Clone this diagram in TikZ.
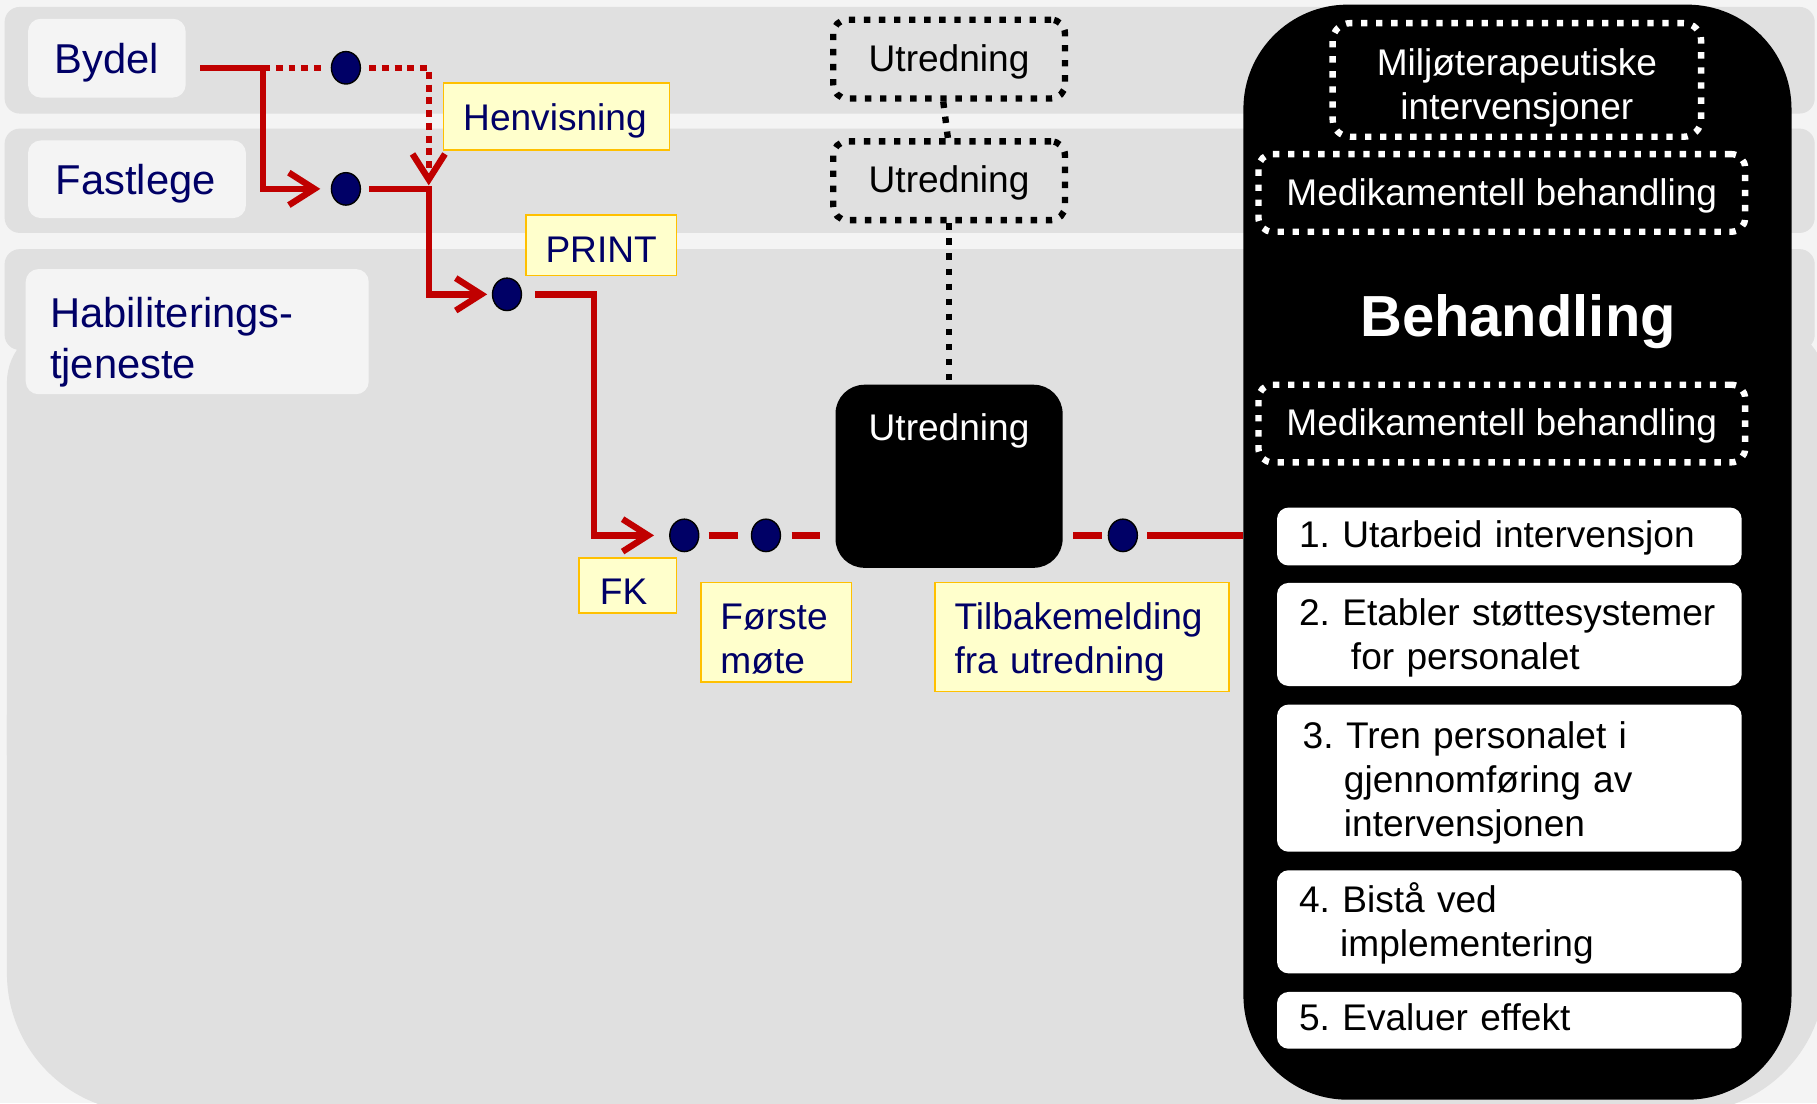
\documentclass[tikz,border=0pt]{standalone}
\usepackage{fontspec}
\setmainfont{Liberation Sans}
\usetikzlibrary{arrows.meta,shapes.geometric}
\frenchspacing
\hyphenpenalty=10000
\exhyphenpenalty=10000

\definecolor{pagebg}{HTML}{F4F4F4}
\definecolor{band}{HTML}{E0E0E0}
\definecolor{navy}{HTML}{000066}
\definecolor{flowred}{HTML}{C00000}
\definecolor{notefill}{HTML}{FFFFCC}
\definecolor{noteedge}{HTML}{FFC000}

\newcommand\fsLarge{\fontsize{36}{44}\selectfont}
\newcommand\fsMid{\fontsize{32}{38}\selectfont}
\newcommand\fsTitle{\fontsize{50}{60}\selectfont\bfseries}

\begin{document}
\begin{tikzpicture}[x=1pt,y=-1pt,
  lane/.style={fill=band},
  actor/.style={fill=pagebg, rounded corners=11pt, anchor=north west, align=left,
    text=navy, font=\fsLarge, inner ysep=0pt, text depth=0pt},
  note/.style={fill=notefill, draw=noteedge, line width=1.5pt, anchor=north west,
    align=left, text=navy, font=\fsMid, inner ysep=0pt, text depth=0pt},
  dot/.style={ellipse, fill=navy, draw=black, line width=1.2pt, minimum width=25pt,
    minimum height=28pt, inner sep=0pt},
  probe/.style={draw=black, line width=5.5pt, dash pattern=on 5.5pt off 7.5pt,
    rounded corners=12pt, minimum width=200pt, minimum height=68pt, font=\fsMid,
    inner sep=0pt, text depth=0pt},
  wprobe/.style={probe, draw=white, text=white},
  stepbox/.style={fill=white, rounded corners=10pt, text width=363pt, inner xsep=19pt,
    inner ysep=0pt, align=left, font=\fsMid, text=black, text depth=0pt},
  rline/.style={draw=flowred, line width=5.5pt},
  rdot/.style={rline, dash pattern=on 6pt off 5pt},
  barb/.style={-{Straight Barb[length=22pt,width=28pt]}},
  kdot/.style={draw=black, line width=5.5pt, dash pattern=on 5.5pt off 7.5pt}
]
\useasboundingbox (0,0) rectangle (1568,952);
\fill[pagebg] (0,0) rectangle (1568,952);

% swimlanes
\begin{scope}
  \clip (0,0) rectangle (1568,952);
  \fill[lane, rounded corners=13pt] (4,6) rectangle (1566,98);
  \fill[lane, rounded corners=13pt] (4,111) rectangle (1566,201);
  \fill[lane, rounded corners=13pt] (4,215) rectangle (1566,302);
  \fill[lane, rounded corners=50pt] (6,280) rectangle (1575,700);
  \fill[lane, rounded corners=120pt] (6,500) rectangle (1575,960);
\end{scope}

% lane titles
\node[actor, text width=90pt, inner xsep=23pt, minimum height=68pt, text height=26pt] (bydel) at (24,16) {Bydel};
\node[actor, text width=140pt, inner xsep=24pt, minimum height=67pt, text height=27pt] (fastlege) at (24,121) {Fastlege};
\node[actor, text width=254pt, inner xsep=21pt, minimum height=108pt, text height=36pt, text depth=44pt] (habil) at (22,232) {Habiliterings-\\tjeneste};

% notes
\node[note, text width=161pt, inner xsep=17pt, minimum height=58pt, text height=23pt] (henv) at (382,71) {Henvisning};
\node[note, text width=96pt, inner xsep=17pt, minimum height=52pt, text height=29pt] (print) at (453,185) {PRINT};
\node[note, text width=48pt, inner xsep=18pt, minimum height=47pt, text height=32pt] (fk) at (499,481) {FK};
\node[note, text width=96pt, inner xsep=17pt, minimum height=86pt, text height=33pt, text depth=38pt] (forste) at (604,502) {Første\\møte};
\node[note, text width=220pt, inner xsep=17pt, minimum height=94pt, text height=25pt, text depth=38pt] (tilbake) at (806,502) {Tilbakemelding\\fra utredning};

% events
\node[dot] (d1) at (298.5,58.5) {};
\node[dot] (d2) at (298.5,163) {};
\node[dot] (d3) at (437.5,254) {};
\node[dot] (d4) at (590.5,462) {};
\node[dot] (d5) at (661,462) {};
\node[dot] (d6) at (969,462) {};

% assessment
\node[probe, text height=21pt] (ut1) at (819,51) {Utredning};
\node[probe, text height=21pt] (ut2) at (819,156) {Utredning};
\node[fill=black, rounded corners=25pt, minimum width=196pt, minimum height=158pt, inner sep=0pt,
  label={[font=\fsMid, text=white, anchor=base, yshift=-48.5pt]north:Utredning}] (utb) at (819,411) {};

% treatment
\node[fill=black, rounded corners=90pt, minimum width=473pt, minimum height=945pt, inner sep=0pt] (beh) at (1309.5,476.5) {};
\node[wprobe, minimum width=318pt, minimum height=98pt, align=center, rounded corners=15pt, text height=69pt, text depth=0pt] (milj) at (1309,69) {Miljøterapeutiske\\intervensjoner};
\node[wprobe, minimum width=420pt, minimum height=67pt, text height=22pt] (med1) at (1296,166.5) {Medikamentell behandling};
\node[font=\fsTitle, text=white, text height=36pt, text depth=0pt] (behtitle) at (1310,272) {Behandling};
\node[wprobe, minimum width=420pt, minimum height=67pt, text height=20pt] (med2) at (1296,365.5) {Medikamentell behandling};

\node[stepbox, minimum height=50pt, text height=19pt] (s1) at (1302.5,463) {1. Utarbeid intervensjon};
\node[stepbox, minimum height=89pt, text height=22pt, text depth=38pt] (s2) at (1302.5,547.5) {2. Etabler støttesystemer\\\hspace*{1.4em}for personalet};
\node[stepbox, minimum height=127pt, text height=24pt, text depth=76pt] (s3) at (1302.5,671.5) {\hspace*{0.1em}3. Tren personalet i\\\hspace*{1.21em}gjennomføring av\\\hspace*{1.21em}intervensjonen};
\node[stepbox, minimum height=89pt, text height=22pt, text depth=38pt] (s4) at (1302.5,795.5) {4. Bistå ved\\\hspace*{1.11em}implementering};
\node[stepbox, minimum height=49pt, text height=18pt] (s5) at (1302.5,880.5) {5. Evaluer effekt};

% referral flow
\coordinate (bstart) at (173,58.5);
\coordinate (bsplit) at (227,58.5);
\coordinate (hturn) at (370,58.5);
\coordinate (fmerge) at (370,163);
\coordinate (pturn) at (512.5,254);

\draw[rline, barb, shorten >=9pt] (bstart) -- (bsplit) |- (d2);
\draw[rdot, shorten >=8pt] (bsplit) -- (d1);
\draw[rdot, barb, shorten <=7pt, shorten >=3pt] (d1) -- (hturn) -- (fmerge);
\draw[rline, barb, shorten <=7pt, shorten >=4pt] (d2) -- (fmerge) |- (d3);
\draw[rline, barb, shorten <=11pt, shorten >=13pt] (d3) -- (pturn) |- (d4);
\draw[rline, shorten <=8pt, shorten >=11pt] (d4) -- (d5);
\draw[rline, shorten <=9pt, shorten >=13pt] (d5) -- (d5 -| utb.west);
\draw[rline, shorten <=9pt, shorten >=5pt] (utb.east |- d6) -- (d6);
\draw[rline, shorten <=8pt] (d6) -- (d6 -| beh.west);

% assessment links
\draw[kdot] ([xshift=-5pt]ut1.south) -- ([xshift=-1pt]ut2.north);
\draw[kdot] (utb.north |- ut2.south) -- (utb.north);
\end{tikzpicture}
\end{document}
